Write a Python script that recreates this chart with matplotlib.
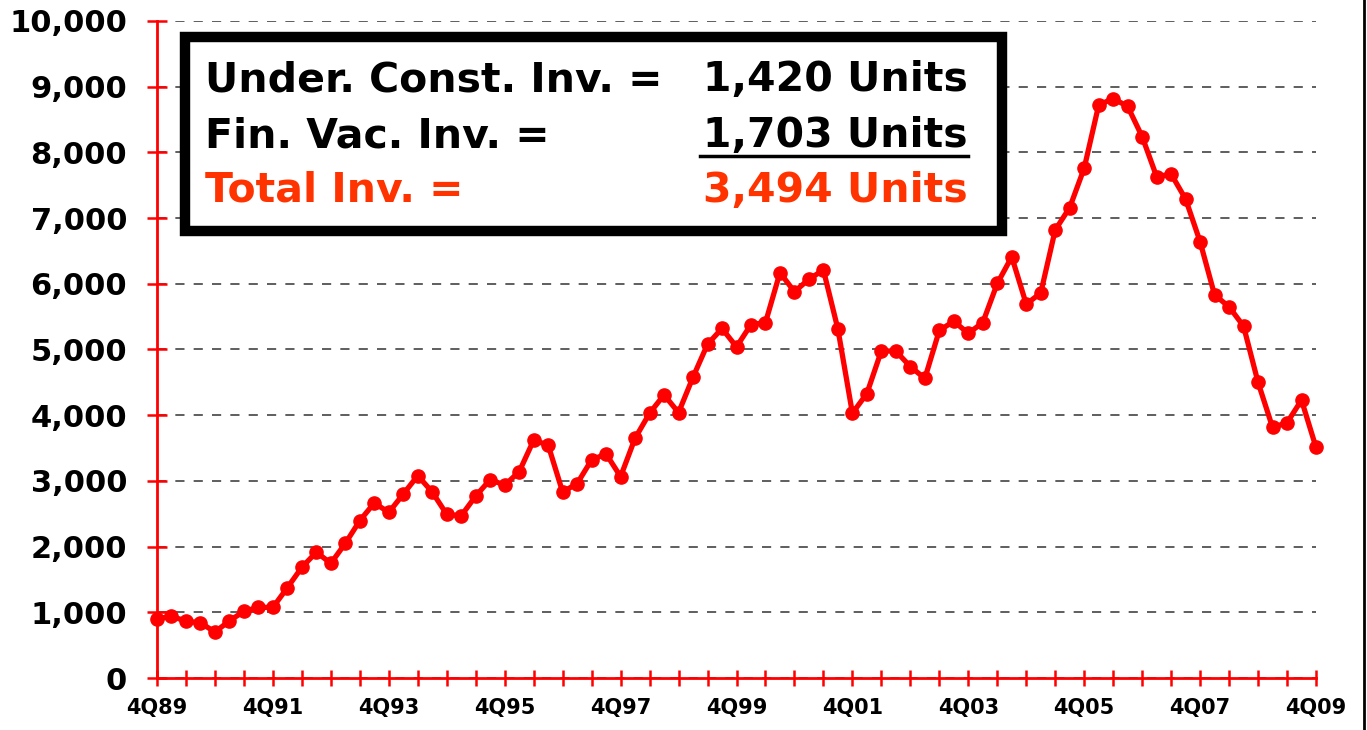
import matplotlib
matplotlib.use("Agg")
import matplotlib.pyplot as plt
from matplotlib.lines import Line2D
from matplotlib.patches import Rectangle

# ---- data ----
values = [900, 940, 865, 840, 700, 870, 1015, 1075, 1075, 1375,
          1685, 1915, 1745, 2050, 2395, 2665, 2520, 2800, 3080, 2830,
          2490, 2470, 2770, 3020, 2935, 3140, 3620, 3545, 2830, 2960,
          3320, 3410, 3065, 3650, 4030, 4310, 4040, 4580, 5080, 5320,
          5040, 5380, 5410, 6170, 5880, 6070, 6210, 5310, 4030, 4330,
          4980, 4975, 4740, 4560, 5290, 5430, 5245, 5410, 6005, 6410,
          5690, 5860, 6820, 7160, 7760, 8720, 8820, 8700, 8240, 7630,
          7670, 7290, 6640, 5830, 5650, 5355, 4500, 3815, 3885, 4230,
          3510]
xtick_labels = ["4Q89", "4Q91", "4Q93", "4Q95", "4Q97", "4Q99",
                "4Q01", "4Q03", "4Q05", "4Q07", "4Q09"]
ytick_values = list(range(0, 10001, 1000))
box_labels = ["Under. Const. Inv. =", "Fin. Vac. Inv. =", "Total Inv. ="]
box_values = ["1,420 Units", "1,703 Units", "3,494 Units"]
box_colors = ["black", "black", "#FF3300"]

RED = "#FF0000"

fig = plt.figure(figsize=(13.67, 7.30), dpi=100)
ax = fig.add_axes([157 / 1367, 1 - 678 / 730, (1316 - 157) / 1367, (678 - 21) / 730])

x = list(range(len(values)))
ax.plot(x, values, color=RED, lw=3.8, marker="o", ms=9.5, mfc=RED, mec=RED,
        zorder=5, clip_on=False)

ax.set_xlim(0, len(values) - 1)
ax.set_ylim(0, 10000)

ax.set_yticks(ytick_values)
ax.set_yticklabels([f"{v:,}" for v in ytick_values], fontsize=22, fontweight="bold")
ax.set_xticks(range(0, len(values), 2))
ax.set_xticklabels([xtick_labels[i // 8] if i % 8 == 0 else "" for i in range(0, len(values), 2)],
                   fontsize=15, fontweight="bold")

ax.tick_params(axis="y", direction="inout", length=15, width=1.8, color=RED, pad=14)
ax.tick_params(axis="x", direction="inout", length=11, width=1.8, color=RED, pad=9)

for s in ["top", "right"]:
    ax.spines[s].set_visible(False)
for s in ["left", "bottom"]:
    ax.spines[s].set_color(RED)
    ax.spines[s].set_linewidth(2)

ax.yaxis.grid(True, linestyle=(0, (6, 6)), color="#333333", lw=1.1)
ax.set_axisbelow(True)

# ---- text box ----
bx0, by0, bx1, by1 = 185, 37, 1002, 231  # pixel coords
rect = Rectangle((bx0 / 1367, 1 - by1 / 730), (bx1 - bx0) / 1367, (by1 - by0) / 730,
                 transform=fig.transFigure, facecolor="white", edgecolor="black",
                 lw=7.5, zorder=10)
fig.patches.append(rect)

line_y = [80, 136, 191]
for lbl, val, col, yy in zip(box_labels, box_values, box_colors, line_y):
    fig.text(205 / 1367, 1 - yy / 730, lbl, fontsize=29.5, fontweight="bold", color=col,
             ha="left", va="center", zorder=11)
    fig.text(968 / 1367, 1 - yy / 730, val, fontsize=29.5, fontweight="bold", color=col,
             ha="right", va="center", zorder=11)

fig.add_artist(Line2D([700 / 1367, 968 / 1367], [1 - 156 / 730, 1 - 156 / 730],
                      color="black", lw=2.5, zorder=11))

# right border line
fig.add_artist(Line2D([1363.5 / 1367, 1363.5 / 1367], [0, 1], color="black", lw=2))

fig.savefig("out.png", dpi=100)
